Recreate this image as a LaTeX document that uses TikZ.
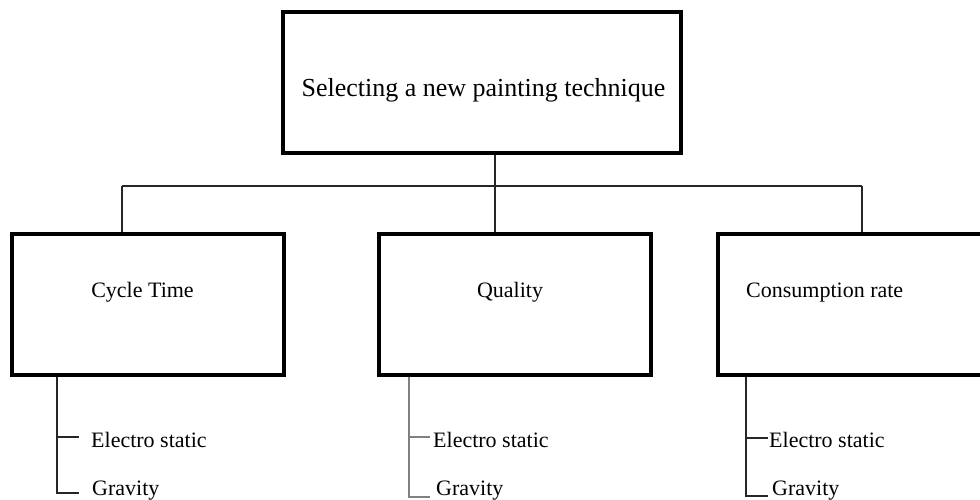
\documentclass[tikz,border=0pt]{standalone}
\usepackage{fontspec}
\setmainfont{Liberation Serif}
\begin{document}
\begin{tikzpicture}[x=1pt,y=-1pt,
  box/.style={draw,line width=4pt,inner sep=0pt,minimum width=272pt,minimum height=141pt},
  conn/.style={line width=1.1pt,draw=black!85},
  leafconn/.style={line width=1.1pt,draw=#1},
  toptxt/.style={anchor=base,inner sep=0pt,font=\fontsize{26}{30}\selectfont},
  midtxt/.style={inner sep=0pt,font=\fontsize{22}{26}\selectfont},
  leaftxt/.style={anchor=base west,inner sep=0pt,font=\fontsize{22}{26}\selectfont}]
\path[use as bounding box,clip] (0,0) rectangle (980,500);
\fill[white] (0,0) rectangle (980,500);

% boxes
\node[box,minimum width=398pt] (top) at (482,82.5) {};
\node[box] (cyc) at (148,304.5) {};
\node[box] (qual) at (515,304.5) {};
\node[box] (cons) at (854,304.5) {};

% texts
\node[toptxt] (ttop) at (483.5,97) {Selecting a new painting technique};
\node[midtxt,anchor=base] (tcyc) at (142.5,297) {Cycle Time};
\node[midtxt,anchor=base] (tqual) at (510,297) {Quality};
\node[midtxt,anchor=base west] (tcons) at (746,297) {Consumption rate};

% tree connectors
\coordinate (hub) at (495,186);
\coordinate (jL) at (122,186);
\coordinate (jR) at (862,186);
\draw[conn] (hub |- top.south) -- (hub);
\draw[conn] (jL) -- (jR);
\draw[conn] (jL) -- (jL |- cyc.north);
\draw[conn] (hub) -- (hub |- qual.north);
\draw[conn] (jR) -- (jR |- cons.north);

% leaves: Cycle Time
\coordinate (sL) at (57,493);
\coordinate (tL1) at (79,437);
\coordinate (tL2) at (79,493);
\draw[leafconn=black!85] (sL |- cyc.south) -- (sL) -- (tL2);
\draw[leafconn=black!85] (sL |- tL1) -- (tL1);
\node[leaftxt] (eL) at (91,447) {Electro static};
\node[leaftxt] (gL) at (92,495) {Gravity};

% leaves: Quality
\coordinate (sM) at (409,497);
\coordinate (tM1) at (430,437);
\coordinate (tM2) at (430,497);
\draw[leafconn=black!50] (sM |- qual.south) -- (sM) -- (tM2);
\draw[leafconn=black!50] (sM |- tM1) -- (tM1);
\node[leaftxt] (eM) at (433,447) {Electro static};
\node[leaftxt] (gM) at (436,495) {Gravity};

% leaves: Consumption rate
\coordinate (sR) at (746,496);
\coordinate (tR1) at (768,438);
\coordinate (tR2) at (768,496);
\draw[leafconn=black!85] (sR |- cons.south) -- (sR) -- (tR2);
\draw[leafconn=black!85] (sR |- tR1) -- (tR1);
\node[leaftxt] (eR) at (769,447) {Electro static};
\node[leaftxt] (gR) at (772,495) {Gravity};
\end{tikzpicture}
\end{document}
